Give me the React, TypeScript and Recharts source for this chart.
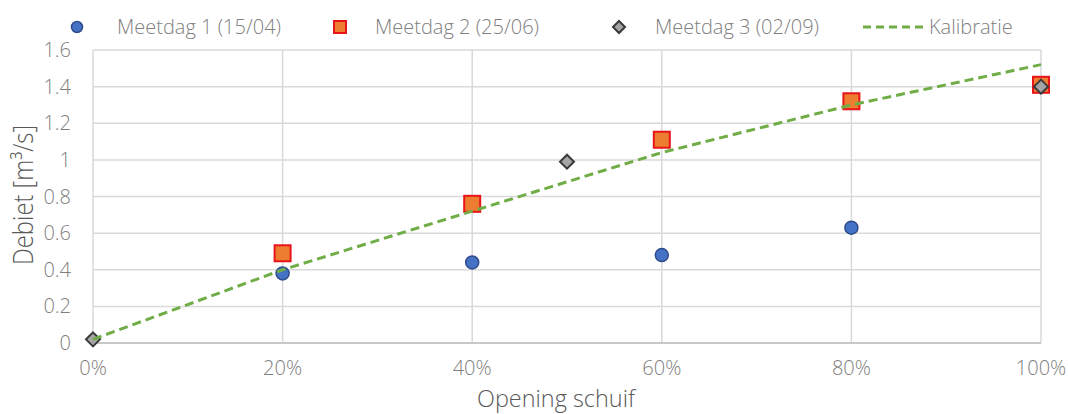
import React from 'react';
import { CartesianGrid, Scatter, ScatterChart, XAxis, YAxis } from 'recharts';

// Opening of the gate (%) against measured discharge (m³/s)
const meetdag1X = [20, 40, 60, 80, 100];
const meetdag1Y = [0.38, 0.44, 0.48, 0.63, 1.4];

const meetdag2X = [20, 40, 60, 80, 100];
const meetdag2Y = [0.49, 0.76, 1.11, 1.32, 1.41];

const meetdag3X = [0, 50, 100];
const meetdag3Y = [0.02, 0.99, 1.4];

const kalibratieX = [0, 20, 40, 60, 80, 100];
const kalibratieY = [0.02, 0.4, 0.72, 1.04, 1.3, 1.52];

const xTicks = [0, 20, 40, 60, 80, 100];
const yTicks = [0, 0.2, 0.4, 0.6, 0.8, 1, 1.2, 1.4, 1.6];

const seriesNames = ['Meetdag 1 (15/04)', 'Meetdag 2 (25/06)', 'Meetdag 3 (02/09)', 'Kalibratie'];

const toPoints = (xs: number[], ys: number[]) => xs.map((x, i) => ({ x, y: ys[i] }));

const FONT = '"Open Sans", sans-serif';
const LIGHT = '#808080';
const DARK = '#595959';
const GREEN = '#70AD47';

const Dot = (props: any) => (
  <circle cx={props.cx} cy={props.cy} r={6.5} fill="#4472C4" stroke="#2F4B8C" strokeWidth={1.5} />
);

const Square = (props: any) => (
  <rect x={props.cx - 8} y={props.cy - 8} width={16} height={16} fill="#ED7D31" stroke="#E8141A" strokeWidth={2} />
);

const Diamond = (props: any) => {
  const { cx, cy } = props;
  const r = 7;
  return (
    <path
      d={`M${cx},${cy - r}L${cx + r},${cy}L${cx},${cy + r}L${cx - r},${cy}Z`}
      fill="#A5A5A5"
      stroke="#3A3A3A"
      strokeWidth={2}
    />
  );
};

const NoMark = () => <g />;

// axis titles use a narrow face, squeezed with textLength
const YTitle = () => (
  <text
    x={22}
    y={195}
    transform="rotate(-90, 22, 195)"
    textAnchor="middle"
    dominantBaseline="central"
    fill={DARK}
    fontSize={27}
    fontWeight={300}
    fontFamily={FONT}
    textLength={140}
    lengthAdjust="spacingAndGlyphs"
  >
    Debiet [m³/s]
  </text>
);

const XTitle = () => (
  <text
    x={556}
    y={407}
    textAnchor="middle"
    fill={DARK}
    fontSize={23}
    fontWeight={300}
    fontFamily={FONT}
    textLength={158}
    lengthAdjust="spacingAndGlyphs"
  >
    Opening schuif
  </text>
);

const legendIcon = (i: number) => {
  if (i === 0)
    return (
      <svg width={16} height={16}>
        <circle cx={8} cy={8} r={5.5} fill="#4472C4" stroke="#2F4B8C" strokeWidth={1.5} />
      </svg>
    );
  if (i === 1)
    return (
      <svg width={16} height={16}>
        <rect x={2} y={2} width={12} height={12} fill="#ED7D31" stroke="#E8141A" strokeWidth={2} />
      </svg>
    );
  if (i === 2)
    return (
      <svg width={16} height={16}>
        <path d="M8,2L14,8L8,14L2,8Z" fill="#A5A5A5" stroke="#3A3A3A" strokeWidth={2} />
      </svg>
    );
  return (
    <svg width={62} height={16}>
      <line x1={0} y1={8} x2={62} y2={8} stroke={GREEN} strokeWidth={3} strokeDasharray="8 5" />
    </svg>
  );
};

// icon left edge, text left edge
const legendPos = [
  [69, 117],
  [332, 375],
  [611, 655],
  [863, 929],
];

const App: React.FC = () => {
  return (
    <div
      style={{
        position: 'absolute',
        left: 0,
        top: 0,
        width: 1068,
        height: 414,
        background: '#fff',
        fontFamily: FONT,
      }}
    >
      {seriesNames.map((name, i) => (
        <React.Fragment key={name}>
          <div style={{ position: 'absolute', left: legendPos[i][0], top: 19, height: 16, lineHeight: 0 }}>
            {legendIcon(i)}
          </div>
          <div
            style={{
              position: 'absolute',
              left: legendPos[i][1],
              top: 13,
              fontSize: 20,
              fontWeight: 300,
              lineHeight: '28px',
              color: LIGHT,
              whiteSpace: 'nowrap',
            }}
          >
            {name}
          </div>
        </React.Fragment>
      ))}
      <ScatterChart width={1068} height={414} margin={{ top: 50, right: 27, bottom: 1, left: 33 }}>
        <CartesianGrid stroke="#d9d9d9" strokeWidth={1.5} />
        <XAxis
          type="number"
          dataKey="x"
          domain={[0, 100]}
          ticks={xTicks}
          tickFormatter={(v: number) => `${v}%`}
          height={70}
          tickSize={0}
          tickMargin={18}
          axisLine={{ stroke: '#bfbfbf', strokeWidth: 1.5 }}
          tick={{ fill: LIGHT, fontSize: 20, fontWeight: 300, fontFamily: FONT }}
          label={<XTitle />}
        />
        <YAxis
          type="number"
          dataKey="y"
          domain={[0, 1.6]}
          ticks={yTicks}
          tickFormatter={(v: number) => String(v)}
          width={60}
          tickSize={0}
          tickMargin={22}
          axisLine={false}
          tick={{ fill: LIGHT, fontSize: 20, fontWeight: 300, fontFamily: FONT }}
          label={<YTitle />}
        />
        <Scatter
          name={seriesNames[0]}
          data={toPoints(meetdag1X, meetdag1Y)}
          shape={Dot}
          isAnimationActive={false}
        />
        <Scatter
          name={seriesNames[1]}
          data={toPoints(meetdag2X, meetdag2Y)}
          shape={Square}
          isAnimationActive={false}
        />
        <Scatter
          name={seriesNames[2]}
          data={toPoints(meetdag3X, meetdag3Y)}
          shape={Diamond}
          isAnimationActive={false}
        />
        <Scatter
          name={seriesNames[3]}
          data={toPoints(kalibratieX, kalibratieY)}
          shape={NoMark}
          line={{ stroke: GREEN, strokeWidth: 3, strokeDasharray: '9 5' }}
          isAnimationActive={false}
        />
      </ScatterChart>
    </div>
  );
};

export default App;
